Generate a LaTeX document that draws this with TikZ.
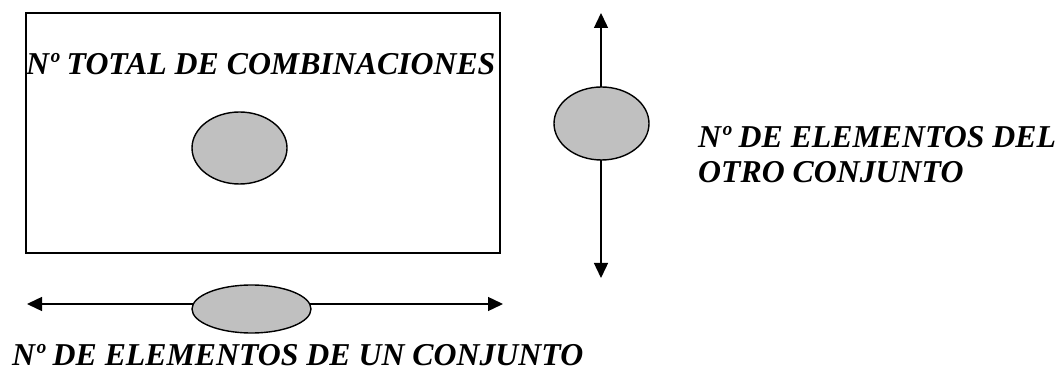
\documentclass[tikz,border=0pt]{standalone}
\usepackage{fontspec}
\setmainfont{Liberation Serif}
\usetikzlibrary{shapes.geometric,arrows.meta}
\definecolor{blobgray}{HTML}{C0C0C0}
\tikzset{
  blob/.style={ellipse,draw=black,line width=1.4pt,fill=blobgray,inner sep=0pt},
  label/.style={anchor=base west,inner sep=0pt,font=\fontsize{31.8}{35}\selectfont\bfseries\itshape},
  dblarrow/.style={line width=1.4pt,{Triangle[length=15pt,width=14pt]}-{Triangle[length=15pt,width=14pt]}},
  frame/.style={draw=black,line width=1.4pt}
}
\begin{document}
\begin{tikzpicture}[x=1pt,y=-1pt]
\useasboundingbox (0,0) rectangle (1063,371);
% main rectangle
\draw[frame] (26,13) rectangle (500,253);
\node[label] (total) at (26,75) {Nº TOTAL DE COMBINACIONES};
\node[blob,minimum width=95pt,minimum height=72pt] (inner) at (239.5,148) {};
% horizontal arrow
\coordinate (hl) at (27,304);
\coordinate (hr) at (503,304);
\draw[dblarrow] (hl) -- (hr);
\node[blob,minimum width=119pt,minimum height=48pt] (hblob) at (251.5,309) {};
\node[label] (un) at (12,365) {Nº DE ELEMENTOS DE UN CONJUNTO};
% vertical arrow
\coordinate (vt) at (601,13);
\coordinate (vb) at (601,278);
\draw[dblarrow] (vt) -- (vb);
\node[blob,minimum width=95pt,minimum height=73pt] (vblob) at (601.5,123.5) {};
\node[label] (otro1) at (698,148) {Nº DE ELEMENTOS DEL};
\node[label] (otro2) at (698,183) {OTRO CONJUNTO};
\end{tikzpicture}
\end{document}
